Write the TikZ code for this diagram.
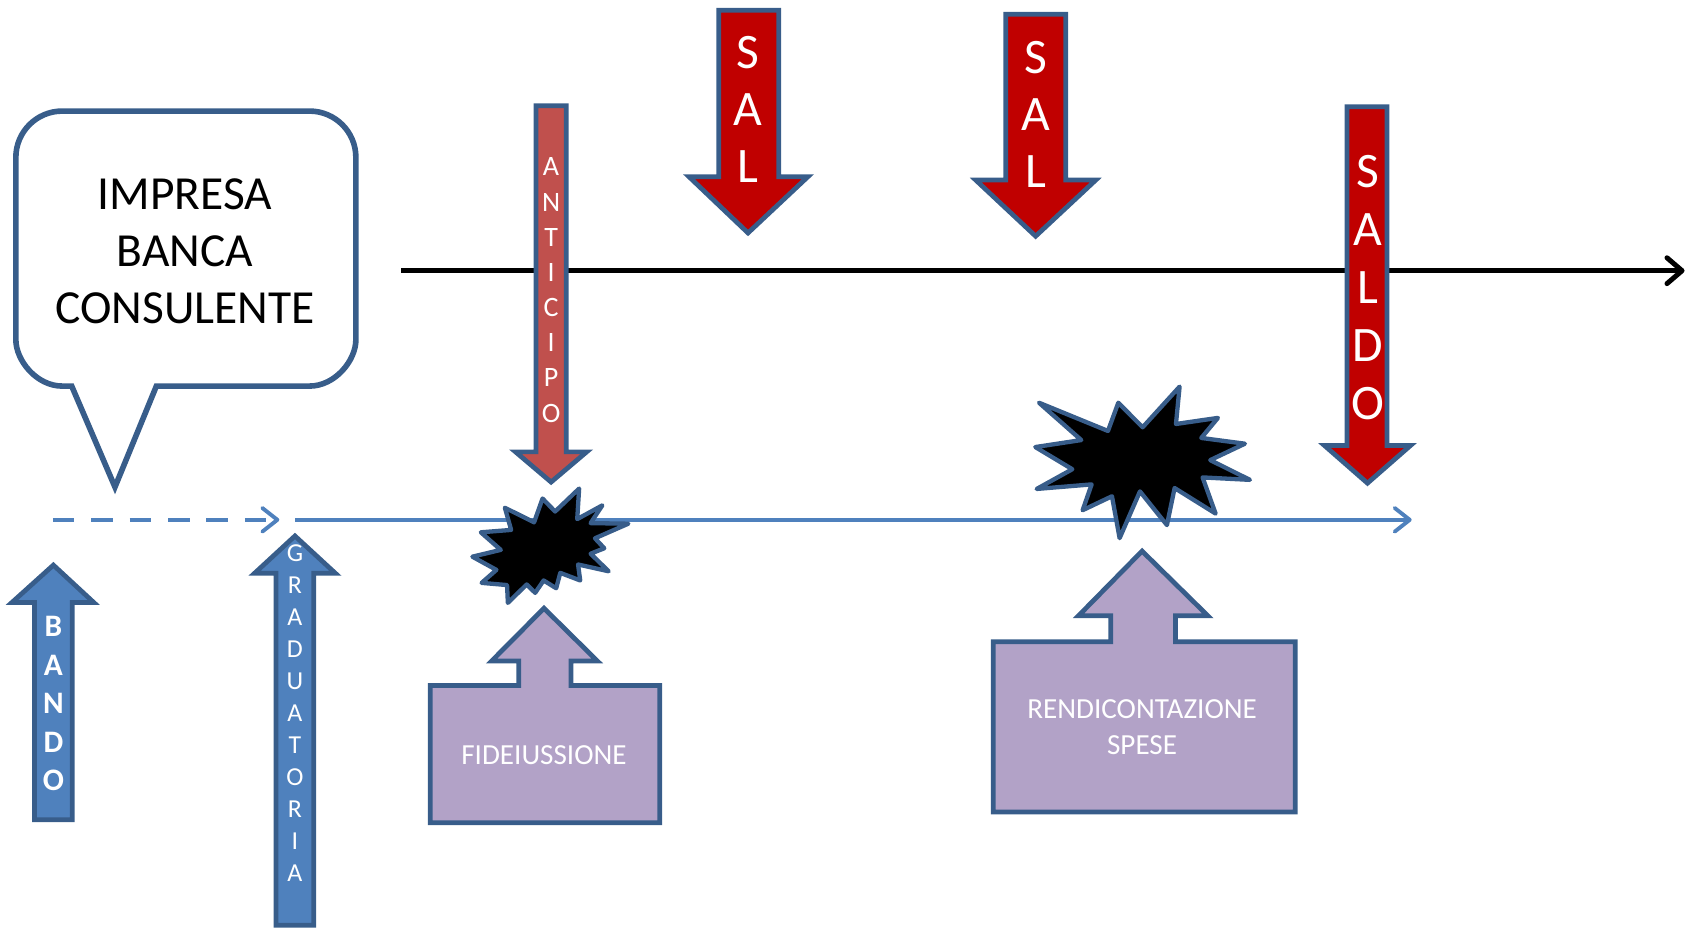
\documentclass[tikz,border=0pt]{standalone}
\usepackage{fontspec}
\setmainfont{Carlito}
\usetikzlibrary{arrows.meta}
\definecolor{edge}{HTML}{385D8A}
\definecolor{bluefill}{HTML}{4F81BD}
\definecolor{redfill}{HTML}{C00000}
\definecolor{antifill}{HTML}{C0504D}
\definecolor{purp}{HTML}{B2A2C7}
\tikzset{
  outl/.style={draw=edge, line width=2.2pt, line join=miter},
  redshape/.style={outl, fill=redfill},
  antishape/.style={outl, fill=antifill},
  blueshape/.style={outl, fill=bluefill},
  purpshape/.style={outl, fill=purp},
  seal/.style={draw=edge, fill=black, line width=2pt, line join=round},
  bubble/.style={draw=edge, fill=white, line width=2.6pt, line join=miter},
  vtext/.style={text=white, align=center, inner sep=0pt},
  timeline/.style={draw=black, line width=2.3pt, -{Straight Barb[length=7pt,width=12pt,round]}},
  flowline/.style={draw=bluefill, line width=1.8pt, -{Straight Barb[length=7pt,width=11pt,round]}},
  flowdash/.style={flowline, dash pattern=on 10pt off 7.8pt},
}
\begin{document}
\begin{tikzpicture}[x=0.5pt,y=-0.5pt]
\useasboundingbox (0,0) rectangle (1568,862);

% speech bubble
\draw[bubble] (66.5,358) -- (106.6,451.6) -- (145,358) -- (287,358)
  .. controls (310.75,358) and (330,334.25) .. (330,315) -- (330,146)
  .. controls (330,122.25) and (310.75,103) .. (287,103) -- (57.7,103)
  .. controls (33.95,103) and (14.7,122.25) .. (14.7,146) -- (14.7,315)
  .. controls (14.7,334.25) and (33.95,358) .. (57.7,358) -- cycle;
\node[font=\fontsize{22pt}{26.5pt}\selectfont, align=center, inner sep=0pt] (actors) at (171.5,233) {IMPRESA\\BANCA\\CONSULENTE};

% time lines
\coordinate (t0) at (372,251);
\coordinate (t1) at (1562,251);
\draw[timeline] (t0) -- (t1);

\coordinate (d0) at (49,482);
\coordinate (d1) at (259,482);
\coordinate (s0) at (273.6,482);
\coordinate (s1) at (1309,482);
\draw[flowdash] (d0) -- (d1);
\draw[flowline] (s0) -- (s1);

% ANTICIPO arrow
\draw[antishape] (497,98) -- (525,98) -- (525,419) -- (544,419) -- (511,447) -- (478,419) -- (497,419) -- cycle;
\node[vtext, font=\fontsize{13pt}{16.3pt}\selectfont] (anticipo) at (511,269) {A\\N\\T\\I\\C\\I\\P\\O};

% SAL arrows
\draw[redshape] (666.5,9.6) -- (722,9.6) -- (722,164) -- (749,164) -- (693.6,216) -- (639,164) -- (666.5,164) -- cycle;
\node[vtext, font=\fontsize{23pt}{26.5pt}\selectfont] (sal1) at (693.6,101.6) {S\\A\\L};

\draw[redshape] (932.6,13.1) -- (988.3,13.1) -- (988.3,167) -- (1016,167) -- (960.3,219) -- (904.8,167) -- (932.6,167) -- cycle;
\node[vtext, font=\fontsize{23pt}{26.5pt}\selectfont] (sal2) at (960.3,105.9) {S\\A\\L};

% SALDO arrow
\draw[redshape] (1249,98.9) -- (1286,98.9) -- (1286,413) -- (1308,413) -- (1268,448) -- (1228,413) -- (1249,413) -- cycle;
\node[vtext, font=\fontsize{23pt}{26.85pt}\selectfont] (saldo) at (1268,266.6) {S\\A\\L\\D\\O};

% BANDO arrow
\draw[blueshape] (32,760) -- (32,558.7) -- (11,558.7) -- (49.5,524) -- (87,558.7) -- (67,558.7) -- (67,760) -- cycle;
\node[vtext, font=\bfseries\fontsize{14.5pt}{17.9pt}\selectfont] (bando) at (49.5,652.5) {B\\A\\N\\D\\O};

% GRADUATORIA arrow
\draw[blueshape] (256,858) -- (256,531.6) -- (236,531.6) -- (273.5,497) -- (311,531.6) -- (291,531.6) -- (291,858) -- cycle;
\node[vtext, font=\fontsize{12pt}{14.8pt}\selectfont] (graduatoria) at (273.5,661.3) {G\\R\\A\\D\\U\\A\\T\\O\\R\\I\\A};

% explosion 1 (irregular seal 2)
\begin{scope}[shift={(438,453)}, xscale=0.6694, yscale=0.4907]
\draw[seal] (114.62,43.42) -- (147.9,0) -- (145.25,57.77) -- (180.07,31.72) -- (163.8,65.32) -- (216,66.45) -- (169.85,94.02) -- (182.7,112.9) -- (163.8,123.1) -- (188.77,156.32) -- (146.4,143.5) -- (149.42,173.7) -- (121.8,159.35) -- (116.12,188.42) -- (98.72,173.7) -- (87,197.12) -- (75.27,181.25) -- (49.17,216) -- (48.05,182.4) -- (12.85,178.25) -- (33.3,153.7) -- (0,128.77) -- (39.35,115.92) -- (11.72,82.7) -- (53.72,78.17) -- (45.02,36.25) -- (85.5,63.82) -- (97.22,18.87) -- cycle;
\end{scope}

% explosion 2 (irregular seal 1)
\begin{scope}[shift={(960,358.5)}, xscale=0.9213, yscale=0.6505]
\draw[seal] (108,58) -- (145.22,0) -- (141.55,53.25) -- (183.8,44.57) -- (167.02,73.15) -- (210.97,81.37) -- (176.07,104.75) -- (216,132.9) -- (168.37,129.42) -- (181.45,180.95) -- (140.2,144.57) -- (132.47,197.37) -- (105.32,149.35) -- (84.85,216) -- (77.15,156.27) -- (47.62,176.17) -- (56.67,139.37) -- (1.35,145.87) -- (37.22,117.75) -- (0,86.15) -- (46.27,76.17) -- (3.7,22.95) -- (73.12,63.2) -- (83.52,22.95) -- cycle;
\end{scope}

% FIDEIUSSIONE callout
\draw[purpshape] (399,635.7) -- (481,635.7) -- (481,613) -- (455.8,613) -- (504.4,564) -- (554,613) -- (529.5,613) -- (529.5,635.7) -- (611.7,635.7) -- (611.7,763) -- (399,763) -- cycle;
\node[vtext, font=\fontsize{13.5pt}{16.7pt}\selectfont] (fideiussione) at (504.4,700) {FIDEIUSSIONE};

% RENDICONTAZIONE callout
\draw[purpshape] (921,595) -- (1030,595) -- (1030,571) -- (1000,571) -- (1059,511) -- (1120,571) -- (1090,571) -- (1090,595) -- (1201,595) -- (1201,753) -- (921,753) -- cycle;
\node[vtext, font=\fontsize{13.5pt}{16.7pt}\selectfont] (rendicontazione) at (1059,674.7) {RENDICONTAZIONE\\SPESE};
\end{tikzpicture}
\end{document}
